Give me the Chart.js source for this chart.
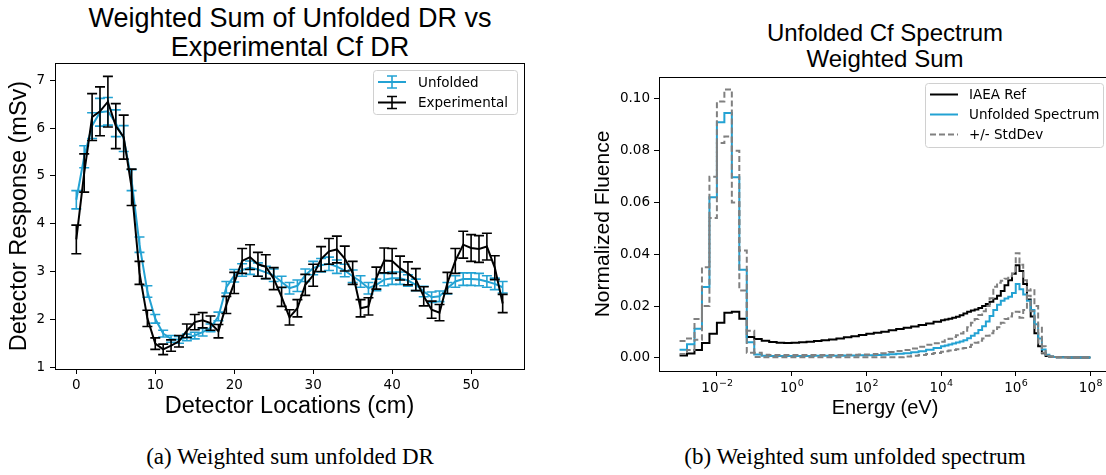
<!DOCTYPE html>
<html>
<head>
<meta charset="utf-8">
<script src="https://cdn.jsdelivr.net/npm/chart.js@4.4.1/dist/chart.umd.min.js"></script>
<style>
html, body { margin:0; padding:0; width:1106px; height:475px; overflow:hidden; background:#fff; }
.box { position:absolute; }
.title { position:absolute; text-align:center; font-family:"Liberation Sans", Arial, sans-serif; color:#000; white-space:nowrap; }
.caption { position:absolute; text-align:center; font-family:"Liberation Serif", "DejaVu Serif", serif; font-size:23px; line-height:26px; color:#000; white-space:nowrap; }
</style>
</head>
<body>
<div class="title" style="left:40px; width:500px; top:4px; font-size:27px; line-height:29px;">Weighted Sum of Unfolded DR vs<br>Experimental Cf DR</div>
<div class="title" style="left:660px; width:450px; top:20px; font-size:24px; line-height:26px;">Unfolded Cf Spectrum<br>Weighted Sum</div>
<div class="box" style="left:0; top:0; width:545px; height:430px;"><canvas id="dr-chart"></canvas></div>
<div class="box" style="left:560px; top:0; width:560px; height:430px;"><canvas id="spec-chart"></canvas></div>
<div class="caption" style="left:90px; width:400px; top:444px;">(a) Weighted sum unfolded DR</div>
<div class="caption" style="left:640px; width:430px; top:444px;">(b) Weighted sum unfolded spectrum</div>

<script>
(function() {
    'use strict';

    // ====== 探测器响应 (左图) ======
    var locations = [0,1,2,3,4,5,6,7,8,9,10,11,12,13,14,15,16,17,18,19,20,21,22,23,24,25,26,27,
        28,29,30,31,32,33,34,35,36,37,38,39,40,41,42,43,44,45,46,47,48,49,50,51,52,53,54];
    var unfoldedDR = [4.50,5.40,6.05,6.33,6.35,6.10,5.78,4.91,3.56,2.58,
        2.01,1.70,1.59,1.57,1.62,1.66,1.73,1.82,2.06,2.67,
        2.91,3.03,3.08,3.04,2.98,2.92,2.78,2.65,2.70,2.92,
        3.07,3.13,3.16,3.10,3.02,2.90,2.79,2.65,2.72,2.83,
        2.86,2.86,2.81,2.72,2.58,2.46,2.48,2.65,2.79,2.84,
        2.84,2.83,2.79,2.74,2.67];
    var unfoldedErr = [0.19,0.23,0.27,0.29,0.29,0.28,0.27,0.22,0.16,0.12,
        0.09,0.07,0.07,0.07,0.07,0.07,0.08,0.08,0.09,0.12,
        0.13,0.13,0.14,0.14,0.13,0.13,0.12,0.12,0.12,0.13,
        0.14,0.14,0.14,0.14,0.13,0.13,0.12,0.12,0.12,0.13,
        0.13,0.13,0.12,0.12,0.11,0.11,0.11,0.12,0.12,0.13,
        0.13,0.13,0.12,0.12,0.12];
    var experimentalDR = [3.67,5.06,6.23,6.35,6.55,6.04,5.81,4.76,2.97,2.02,
        1.49,1.37,1.45,1.54,1.76,1.94,1.98,1.92,1.75,2.30,
        2.76,3.22,3.30,3.15,3.10,2.85,2.47,2.04,2.23,2.72,
        2.92,3.26,3.42,3.46,3.27,2.97,2.23,2.27,2.86,3.23,
        3.22,3.07,2.96,2.83,2.48,2.20,2.14,2.76,3.22,3.56,
        3.49,3.47,3.52,3.08,2.33];
    var experimentalErr = [0.30,0.40,0.49,0.51,0.53,0.47,0.46,0.38,0.24,0.17,
        0.12,0.11,0.12,0.12,0.14,0.16,0.16,0.15,0.14,0.18,
        0.22,0.26,0.26,0.25,0.25,0.23,0.20,0.16,0.18,0.22,
        0.23,0.26,0.27,0.28,0.26,0.24,0.18,0.18,0.23,0.26,
        0.26,0.25,0.24,0.23,0.20,0.18,0.17,0.22,0.26,0.28,
        0.28,0.28,0.28,0.25,0.19];
    var drXTicks = [0,10,20,30,40,50];
    var drYTicks = [1,2,3,4,5,6,7];

    // ====== 能谱 (右图) ======
    // log10(E/eV) 的分箱左边界, 最后一个值是最后一箱的右边界
    var binLog = [-3.0,-2.8,-2.6,-2.4,-2.2,-2.0,-1.8,-1.6,-1.4,-1.2,-1.0,-0.8,-0.6,-0.4,-0.2,
        0.0,0.2,0.4,0.6,0.8,1.0,1.2,1.4,1.6,1.8,2.0,2.2,2.4,2.6,2.8,3.0,3.2,3.4,3.6,3.8,
        4.0,4.1,4.2,4.3,4.4,4.5,4.6,4.7,4.8,4.9,5.0,5.1,5.2,5.3,5.4,5.5,5.6,5.7,5.8,5.9,
        6.0,6.1,6.2,6.3,6.4,6.5,6.6,6.7,6.8,6.9,7.0,7.1,7.2,7.3,7.4,7.6,7.8,8.0];
    var iaeaRef = [0.0009,0.0017,0.0030,0.0057,0.0093,0.0135,0.0174,0.0178,0.0151,0.0080,
        0.0073,0.0066,0.0061,0.0058,0.0057,0.0058,0.0060,0.0062,0.0065,0.0068,
        0.0071,0.0075,0.0079,0.0083,0.0088,0.0093,0.0097,0.0101,0.0106,0.0111,
        0.0116,0.0121,0.0127,0.0133,0.0139,
        0.0145,0.0148,0.0151,0.0155,0.0159,0.0164,0.0171,0.0178,0.0183,0.0187,
        0.0192,0.0200,0.0208,0.0217,0.0228,0.0240,0.0258,0.0280,0.0300,0.0325,
        0.0358,0.0335,0.0285,0.0225,0.0160,0.0095,0.0045,0.0018,0.0007,0.0004,
        0.0003,0.0002,0.0002,0.0002,0.0001,0.0001,0.0001];
    var unfoldedSpec = [0.0031,0.0052,0.0112,0.0274,0.0620,0.0910,0.0946,0.0698,0.0340,0.0060,
        0.0013,0.0008,0.0007,0.0007,0.0007,0.0007,0.0007,0.0007,0.0008,0.0008,
        0.0008,0.0008,0.0009,0.0009,0.0010,0.0010,0.0011,0.0012,0.0014,0.0016,
        0.0018,0.0021,0.0025,0.0031,0.0038,
        0.0045,0.0048,0.0051,0.0055,0.0059,0.0063,0.0068,0.0076,0.0085,0.0095,
        0.0107,0.0122,0.0140,0.0162,0.0185,0.0205,0.0220,0.0229,0.0236,0.0250,
        0.0285,0.0265,0.0245,0.0220,0.0185,0.0130,0.0075,0.0032,0.0012,0.0005,
        0.0003,0.0002,0.0002,0.0002,0.0001,0.0001,0.0001];
    var specUpper = [0.0065,0.0075,0.0150,0.0350,0.0700,0.0990,0.1037,0.0800,0.0415,0.0105,
        0.0020,0.0012,0.0011,0.0011,0.0011,0.0011,0.0011,0.0011,0.0011,0.0011,
        0.0011,0.0011,0.0012,0.0012,0.0013,0.0013,0.0015,0.0018,0.0022,0.0026,
        0.0030,0.0036,0.0043,0.0050,0.0056,
        0.0062,0.0068,0.0074,0.0080,0.0087,0.0094,0.0105,0.0118,0.0135,0.0150,
        0.0165,0.0180,0.0200,0.0230,0.0275,0.0290,0.0298,0.0305,0.0315,0.0325,
        0.0404,0.0360,0.0300,0.0240,0.0180,0.0115,0.0055,0.0020,0.0008,0.0004,
        0.0003,0.0002,0.0002,0.0002,0.0001,0.0001,0.0001];
    var specLower = [0.0015,0.0030,0.0070,0.0200,0.0540,0.0830,0.0855,0.0600,0.0260,0.0020,
        0.0003,0.0002,0.0002,0.0002,0.0002,0.0002,0.0002,0.0002,0.0002,0.0002,
        0.0002,0.0002,0.0002,0.0002,0.0002,0.0002,0.0002,0.0002,0.0002,0.0002,
        0.0005,0.0008,0.0011,0.0015,0.0019,
        0.0023,0.0025,0.0028,0.0030,0.0033,0.0036,0.0038,0.0042,0.0050,0.0058,
        0.0066,0.0075,0.0085,0.0095,0.0105,0.0118,0.0135,0.0150,0.0160,0.0172,
        0.0178,0.0155,0.0185,0.0260,0.0265,0.0200,0.0120,0.0045,0.0012,0.0005,
        0.0003,0.0002,0.0002,0.0002,0.0001,0.0001,0.0001];
    var energyTicks = [1e-2, 1e0, 1e2, 1e4, 1e6, 1e8];
    var energyExponents = ['\u22122', '0', '2', '4', '6', '8'];
    var fluenceTicks = [0, 0.02, 0.04, 0.06, 0.08, 0.10];

    var CYAN = '#23a2d3', GREY = '#808080';
    var TICK_FONT = { family: 'DejaVu Sans', size: 13.5 };
    var LABEL_FAMILY = 'Liberation Sans';

    Chart.defaults.font.family = 'DejaVu Sans';
    Chart.defaults.color = '#000';

    // ====== 公共插件 ======
    var framePlugin = {
        id: 'frame',
        afterDatasetsDraw: function(chart) {
            var a = chart.chartArea, ctx = chart.ctx;
            ctx.save();
            ctx.strokeStyle = '#000'; ctx.lineWidth = 1;
            ctx.strokeRect(Math.round(a.left) + 0.5, Math.round(a.top) + 0.5,
                Math.round(a.right - a.left), Math.round(a.bottom - a.top));
            ctx.restore();
        }
    };

    var errorBarPlugin = {
        id: 'errorBars',
        afterDatasetDraw: function(chart, args) {
            var ds = chart.data.datasets[args.index];
            if (!ds.errors) return;
            var ys = chart.scales.y, ctx = chart.ctx, cap = 5;
            ctx.save();
            ctx.strokeStyle = ds.borderColor; ctx.lineWidth = 1.6;
            args.meta.data.forEach(function(pt, i) {
                var v = ds.data[i].y, e = ds.errors[i];
                var top = ys.getPixelForValue(v + e), bot = ys.getPixelForValue(v - e);
                ctx.beginPath();
                ctx.moveTo(pt.x, top); ctx.lineTo(pt.x, bot);
                ctx.moveTo(pt.x - cap, top); ctx.lineTo(pt.x + cap, top);
                ctx.moveTo(pt.x - cap, bot); ctx.lineTo(pt.x + cap, bot);
                ctx.stroke();
            });
            ctx.restore();
        }
    };

    // 对数轴标签: "10" 加上标指数
    var powerLabelPlugin = {
        id: 'powerLabels',
        afterDraw: function(chart, args, opts) {
            if (!opts.exponents) return;
            var xs = chart.scales.x, ctx = chart.ctx;
            var y = chart.chartArea.bottom + opts.offset;
            ctx.save();
            ctx.fillStyle = '#000'; ctx.textBaseline = 'alphabetic'; ctx.textAlign = 'left';
            opts.values.forEach(function(v, i) {
                var x = xs.getPixelForValue(v), exp = opts.exponents[i];
                ctx.font = '13.5px "DejaVu Sans"';
                var wb = ctx.measureText('10').width;
                ctx.font = '9.5px "DejaVu Sans"';
                var we = ctx.measureText(exp).width;
                var x0 = x - (wb + we) / 2;
                ctx.font = '13.5px "DejaVu Sans"';
                ctx.fillText('10', x0, y);
                ctx.font = '9.5px "DejaVu Sans"';
                ctx.fillText(exp, x0 + wb + 0.5, y - 6.5);
            });
            ctx.restore();
        }
    };

    // 图例: 圆角框 + 每行一个图标和文字
    var boxLegendPlugin = {
        id: 'boxLegend',
        afterDraw: function(chart, args, opts) {
            if (!opts.items) return;
            var ctx = chart.ctx, b = opts.box;
            ctx.save();
            ctx.beginPath();
            ctx.roundRect(b.x + 0.5, b.y + 0.5, b.w, b.h, 3);
            ctx.fillStyle = 'rgba(255,255,255,0.8)'; ctx.fill();
            ctx.strokeStyle = '#d0d0d0'; ctx.lineWidth = 1; ctx.stroke();
            ctx.font = '13.5px "DejaVu Sans"';
            ctx.textBaseline = 'middle';
            opts.items.forEach(function(it, i) {
                var y = b.y + opts.firstRow + i * opts.rowGap;
                var x0 = b.x + 5, x1 = b.x + 33, xm = (x0 + x1) / 2;
                ctx.strokeStyle = it.color; ctx.lineWidth = it.width || 2;
                ctx.setLineDash(it.dash || []);
                ctx.beginPath(); ctx.moveTo(x0, y); ctx.lineTo(x1, y); ctx.stroke();
                ctx.setLineDash([]);
                if (it.errorBar) {
                    ctx.lineWidth = 1.6;
                    ctx.beginPath();
                    ctx.moveTo(xm, y - 6); ctx.lineTo(xm, y + 6);
                    ctx.moveTo(xm - 5, y - 6); ctx.lineTo(xm + 5, y - 6);
                    ctx.moveTo(xm - 5, y + 6); ctx.lineTo(xm + 5, y + 6);
                    ctx.stroke();
                }
                ctx.fillStyle = '#000';
                ctx.fillText(it.label, b.x + opts.textX, y + 1);
            });
            ctx.restore();
        }
    };

    function axisGrid() {
        return { drawOnChartArea: false, drawTicks: true, tickLength: 5, tickColor: '#000', tickWidth: 1 };
    }

    function xyPoints(xs, ys) {
        return xs.map(function(x, i) { return { x: x, y: ys[i] }; });
    }

    // 阶梯线: 每箱左边界一个点, 再补右边界
    function stepPoints(vals) {
        var pts = vals.map(function(v, i) { return { x: Math.pow(10, binLog[i]), y: v }; });
        pts.push({ x: Math.pow(10, binLog[vals.length]), y: vals[vals.length - 1] });
        return pts;
    }

    // ====== 左图 ======
    new Chart(document.getElementById('dr-chart'), {
        type: 'line',
        data: {
            datasets: [
                { label: 'Unfolded', data: xyPoints(locations, unfoldedDR), errors: unfoldedErr,
                  borderColor: CYAN, borderWidth: 2, pointRadius: 0, tension: 0, order: 2 },
                { label: 'Experimental', data: xyPoints(locations, experimentalDR), errors: experimentalErr,
                  borderColor: '#000', borderWidth: 2, pointRadius: 0, tension: 0, order: 1 }
            ]
        },
        options: {
            responsive: true, maintainAspectRatio: false, animation: false, devicePixelRatio: 1,
            layout: { padding: { left: 0, top: 63, right: 21, bottom: 6 } },
            plugins: {
                legend: { display: false }, tooltip: { enabled: false },
                boxLegend: {
                    box: { x: 373, y: 70, w: 144, h: 44 }, firstRow: 12, rowGap: 20.5, textX: 45,
                    items: [
                        { label: 'Unfolded', color: CYAN, errorBar: true },
                        { label: 'Experimental', color: '#000', errorBar: true }
                    ]
                }
            },
            scales: {
                x: {
                    type: 'linear', min: -2.7, max: 56.7,
                    afterBuildTicks: function(s) { s.ticks = drXTicks.map(function(v) { return { value: v }; }); },
                    afterFit: function(s) { s.height = 55; },
                    grid: axisGrid(), border: { display: true, color: '#000', width: 1 },
                    ticks: { font: TICK_FONT, color: '#000', padding: 3, maxRotation: 0, autoSkip: false },
                    title: { display: true, text: 'Detector Locations (cm)', color: '#000',
                             font: { family: LABEL_FAMILY, size: 23.5 }, padding: { top: 0, bottom: 3 } }
                },
                y: {
                    type: 'linear', min: 0.96, max: 7.36,
                    afterBuildTicks: function(s) { s.ticks = drYTicks.map(function(v) { return { value: v }; }); },
                    afterFit: function(s) { s.width = 55; },
                    grid: axisGrid(), border: { display: true, color: '#000', width: 1 },
                    ticks: { font: TICK_FONT, color: '#000', padding: 5 },
                    title: { display: true, text: 'Detector Response (mSv)', color: '#000',
                             font: { family: LABEL_FAMILY, size: 23.5 }, padding: { top: 5, bottom: 0 } }
                }
            }
        },
        plugins: [errorBarPlugin, framePlugin, boxLegendPlugin]
    });

    // ====== 右图 ======
    new Chart(document.getElementById('spec-chart'), {
        type: 'line',
        data: {
            datasets: [
                { label: 'IAEA Ref', data: stepPoints(iaeaRef), borderColor: '#000', borderWidth: 2,
                  stepped: 'before', pointRadius: 0, order: 3 },
                { label: 'Unfolded Spectrum', data: stepPoints(unfoldedSpec), borderColor: CYAN, borderWidth: 2,
                  stepped: 'before', pointRadius: 0, order: 2 },
                { label: '+/- StdDev', data: stepPoints(specUpper), borderColor: GREY, borderWidth: 2,
                  borderDash: [6, 3], stepped: 'before', pointRadius: 0, order: 1 },
                { label: '', data: stepPoints(specLower), borderColor: GREY, borderWidth: 2,
                  borderDash: [6, 3], stepped: 'before', pointRadius: 0, order: 1 }
            ]
        },
        options: {
            responsive: true, maintainAspectRatio: false, animation: false, devicePixelRatio: 1,
            layout: { padding: { left: 20, top: 77, right: 9, bottom: 6 } },
            plugins: {
                legend: { display: false }, tooltip: { enabled: false },
                powerLabels: { values: energyTicks, exponents: energyExponents, offset: 21 },
                boxLegend: {
                    box: { x: 365, y: 83, w: 178, h: 64 }, firstRow: 11.5, rowGap: 20, textX: 44,
                    items: [
                        { label: 'IAEA Ref', color: '#000' },
                        { label: 'Unfolded Spectrum', color: CYAN },
                        { label: '+/- StdDev', color: GREY, dash: [6, 3] }
                    ]
                }
            },
            scales: {
                x: {
                    type: 'logarithmic', min: Math.pow(10, -3.55), max: Math.pow(10, 8.55),
                    afterBuildTicks: function(s) { s.ticks = energyTicks.map(function(v) { return { value: v }; }); },
                    afterFit: function(s) { s.height = 53; },
                    grid: axisGrid(), border: { display: true, color: '#000', width: 1 },
                    ticks: { font: TICK_FONT, color: '#000', padding: 3, maxRotation: 0, autoSkip: false,
                             callback: function() { return ''; } },
                    title: { display: true, text: 'Energy (eV)', color: '#000',
                             font: { family: LABEL_FAMILY, size: 20 }, padding: { top: 0, bottom: 4 } }
                },
                y: {
                    type: 'linear', min: -0.0051, max: 0.1085,
                    afterBuildTicks: function(s) { s.ticks = fluenceTicks.map(function(v) { return { value: v }; }); },
                    afterFit: function(s) { s.width = 79; },
                    grid: axisGrid(), border: { display: true, color: '#000', width: 1 },
                    ticks: { font: TICK_FONT, color: '#000', padding: 4,
                             callback: function(v) { return v.toFixed(2); } },
                    title: { display: true, text: 'Normalized Fluence', color: '#000',
                             font: { family: LABEL_FAMILY, size: 21 }, padding: { top: 11, bottom: 0 } }
                }
            }
        },
        plugins: [framePlugin, powerLabelPlugin, boxLegendPlugin]
    });
})();
</script>
</body>
</html>
